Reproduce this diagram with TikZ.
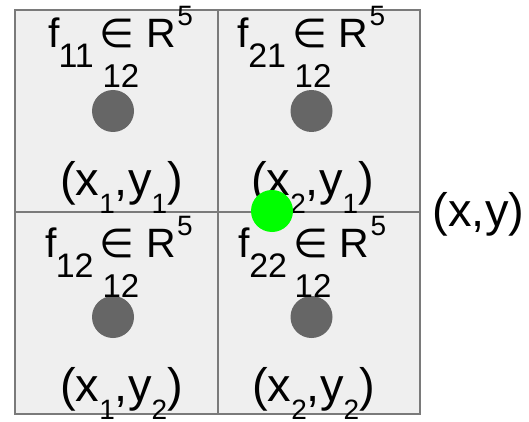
\documentclass[tikz,border=0pt]{standalone}
\usepackage{fontspec}
\setmainfont{Liberation Sans}
\newfontfamily\symfont{DejaVu Sans}
\usetikzlibrary{positioning}

\definecolor{cellfill}{HTML}{EFEFEF}
\definecolor{gridline}{HTML}{7A7A7A}
\definecolor{dotgray}{HTML}{666666}
\definecolor{hitgreen}{HTML}{00FF00}

% feature label of one cell: f_{ij} in R^5
\newcommand{\featlabel}[1]{f\kern-1pt\raisebox{-20pt}{\fontsize{34}{36}\selectfont #1}\kern6pt{\symfont\fontsize{40}{42}\selectfont ∈}\kern12pt R\kern1pt\raisebox{22pt}{\fontsize{28}{30}\selectfont 5}}
% cell centre coordinates (x_i,y_j)
\newcommand{\cellcoord}[2]{(x\raisebox{-18pt}{\fontsize{28}{30}\selectfont #1},y\raisebox{-18pt}{\fontsize{28}{30}\selectfont #2})}

\begin{document}
\begin{tikzpicture}[x=1pt, y=-1pt,
  cell/.style={rectangle, draw=gridline, line width=2pt, fill=cellfill,
    minimum width=202.5pt, minimum height=202pt, inner sep=0pt, anchor=north west},
  feat/.style={anchor=base, inner sep=0pt, font=\fontsize{41}{43}\selectfont},
  idx/.style={anchor=base, inner sep=0pt, font=\fontsize{33}{35}\selectfont},
  crd/.style={anchor=base, inner sep=0pt, font=\fontsize{47}{49}\selectfont},
  pt/.style={circle, fill=dotgray, minimum size=42pt, inner sep=0pt}]
  \useasboundingbox (0,0) rectangle (529,422);

  % grid cells
  \node (c11) [cell] at (14,9) {};
  \node (c21) [cell] at (216.5,9) {};
  \node (c12) [cell] at (14,211) {};
  \node (c22) [cell] at (216.5,211) {};

  % cell centres
  \node (p11) [pt] at (113,111) {};
  \node (p21) [pt] at (311.5,111) {};
  \node (p12) [pt] at (113,317) {};
  \node (p22) [pt] at (311.5,317) {};

  % features
  \node (f11) [feat] at (120.5,48) {\featlabel{11}};
  \node (f21) [feat] at (311.5,48) {\featlabel{21}};
  \node (f12) [feat] at (119,257) {\featlabel{12}};
  \node (f22) [feat] at (312.5,257) {\featlabel{22}};
  \node (i11) [idx] at (121,88) {12};
  \node (i21) [idx] at (313,88) {12};
  \node (i12) [idx] at (121,297) {12};
  \node (i22) [idx] at (313,297) {12};

  % coordinates
  \node (q11) [crd] at (121.5,195) {\cellcoord{1}{1}};
  \node (q21) [crd] at (312.5,195) {\cellcoord{2}{1}};
  \node (q12) [crd] at (121.5,401) {\cellcoord{1}{2}};
  \node (q22) [crd] at (313.5,401) {\cellcoord{2}{2}};

  % query point
  \node (xy) [crd] at (478.5,226) {(x,y)};
  \node (hit) [circle, fill=hitgreen, minimum size=42pt, inner sep=0pt] at (272,211) {};
\end{tikzpicture}
\end{document}
